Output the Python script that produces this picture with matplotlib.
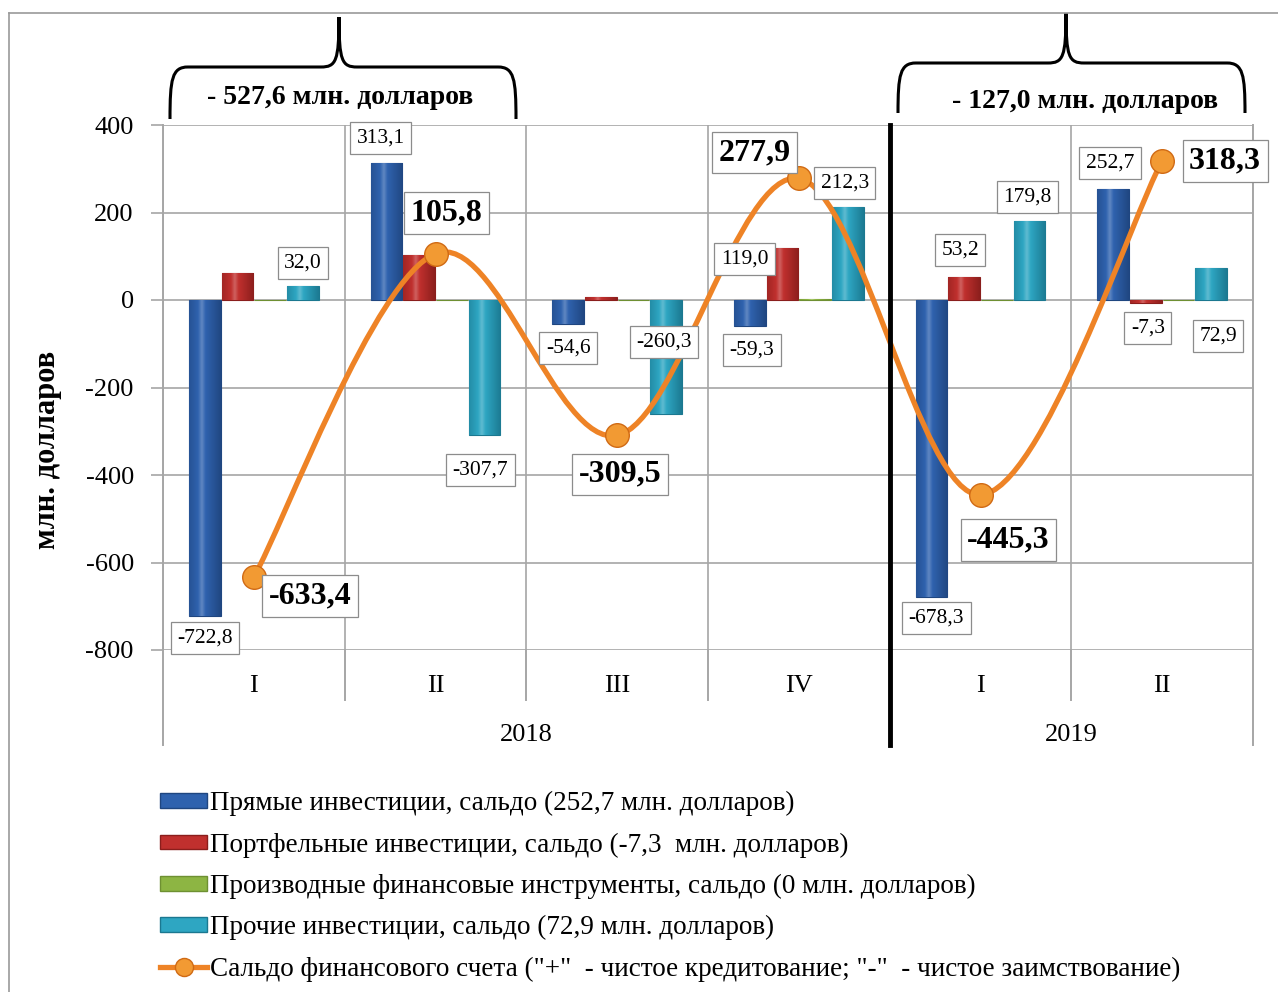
import numpy as np
import matplotlib
matplotlib.use("Agg")
import matplotlib.pyplot as plt
from matplotlib.path import Path
from matplotlib.patches import PathPatch
from matplotlib.lines import Line2D
from matplotlib.patches import Patch
from matplotlib.colors import LinearSegmentedColormap
import matplotlib.transforms as mtransforms

plt.rcParams['font.family'] = ['Liberation Serif', 'DejaVu Serif']
plt.rcParams['axes.unicode_minus'] = False

# --- data
quarters = ["I", "II", "III", "IV", "I", "II"]
years = ["2018", "2019"]
direct = [-722.8, 313.1, -54.6, -59.3, -678.3, 252.7]
portfolio = [62.0, 103.0, 8.0, 119.0, 53.2, -7.3]
derivatives = [0.0, 0.0, 0.0, 3.0, 0.0, 0.0]
other = [32.0, -307.7, -260.3, 212.3, 179.8, 72.9]
balance = [-633.4, 105.8, -309.5, 277.9, -445.3, 318.3]
period_totals = ["- 527,6 млн. долларов", "- 127,0 млн. долларов"]

legend_labels = [
    "Прямые инвестиции, сальдо (252,7 млн. долларов)",
    "Портфельные инвестиции, сальдо (-7,3  млн. долларов)",
    "Производные финансовые инструменты, сальдо (0 млн. долларов)",
    "Прочие инвестиции, сальдо (72,9 млн. долларов)",
    "Сальдо финансового счета (\"+\"  - чистое кредитование; \"-\"  - чистое заимствование)",
]

def fmt(v):
    return f"{v:.1f}".replace(".", ",")

W, H = 1278, 992
fig = plt.figure(figsize=(W / 100, H / 100), dpi=100)

def px(x, y):
    return (x / W, 1 - y / H)

ax = fig.add_axes([163 / W, 1 - 650 / H, (1253 - 163) / W, (650 - 125) / H])

blue, red, green, cyan = '#2F62AE', '#C0302E', '#8DB543', '#2EA6C2'
orange = '#EE8326'
grid_c = '#A6A6A6'

n = len(quarters)
x = np.arange(n)
offs = [-0.27, -0.09, 0.09, 0.27]
bw = 0.175
series = [direct, portfolio, derivatives, other]
cols = [blue, red, green, cyan]
edges = ['#1F4680', '#8A1E1C', '#6E9032', '#1B7890']
grad = np.linspace(0, 1, 64)
grad = 1 - np.abs(grad - 0.4) * 1.6
for s, o, c, e in zip(series, offs, cols, edges):
    bars = ax.bar(x + o, s, width=bw, color=c, edgecolor=e, linewidth=0.8, zorder=3)
    cmap = LinearSegmentedColormap.from_list('g', [e, c, '#FFFFFF'])
    for b in bars:
        if abs(b.get_height()) < 1:
            continue
        x0, y0 = b.get_x(), b.get_y()
        x1, y1 = x0 + b.get_width(), y0 + b.get_height()
        im = ax.imshow(grad[None, :] * 0.62, cmap=cmap, vmin=0, vmax=1, aspect='auto',
                       extent=[x0, x1, min(y0, y1), max(y0, y1)], zorder=3.1,
                       interpolation='bilinear')
        im.set_clip_path(b)

# smoothed line (Catmull-Rom -> cubic bezier, like Excel "smoothed line")
P = np.column_stack([x.astype(float), balance])
verts = [tuple(P[0])]
codes = [Path.MOVETO]
for i in range(n - 1):
    p0 = P[max(i - 1, 0)]
    p1, p2 = P[i], P[i + 1]
    p3 = P[min(i + 2, n - 1)]
    b1 = p1 + (p2 - p0) / 6
    b2 = p2 - (p3 - p1) / 6
    verts += [tuple(b1), tuple(b2), tuple(p2)]
    codes += [Path.CURVE4] * 3
ax.add_patch(PathPatch(Path(verts, codes), fill=False, edgecolor=orange,
                       lw=3.8, zorder=4, capstyle='round'))
ax.plot(x, balance, 'o', ms=17, mfc='#F29A33', mec='#D06A14', mew=1, zorder=5)

ax.set_xlim(-0.5, n - 0.5)
ax.set_ylim(-800, 400)
ax.set_yticks(np.arange(-800, 401, 200))
ax.set_xticks([])
ax.set_xticks(np.arange(-0.5, n, 1), minor=True)
ax.grid(True, axis='y', color=grid_c, lw=1.2, zorder=0)
ax.grid(True, axis='x', which='minor', color=grid_c, lw=1.2, zorder=0)
for sp in ax.spines.values():
    sp.set_visible(False)
ax.tick_params(axis='y', length=9, color=grid_c, width=1.2, labelsize=19, pad=12)
ax.tick_params(axis='x', which='minor', length=0)
fig.text(*px(48, 450), "млн. долларов", rotation=90, ha='center', va='center',
         fontsize=22, fontweight='bold')

# category axis below plot
trans = mtransforms.blended_transform_factory(ax.transData, ax.transAxes)
for i, q in enumerate(quarters):
    ax.text(i, -0.069, q, transform=trans, ha='center', va='center', fontsize=19)
ax.text(1.5, -0.162, years[0], transform=trans, ha='center', va='center', fontsize=19)
ax.text(4.5, -0.162, years[1], transform=trans, ha='center', va='center', fontsize=19)
for b in np.arange(-0.5, n, 1):
    if b in (-0.5, 5.5):
        ax.plot([b, b], [1, -0.181], transform=trans, color=grid_c, lw=1.4, clip_on=False, zorder=1)
    elif b == 3.5:
        ax.plot([b, b], [1, -0.181], transform=trans, color='black', lw=3.5, clip_on=False, zorder=6)
    else:
        ax.plot([b, b], [0, -0.095], transform=trans, color=grid_c, lw=1.4, clip_on=False, zorder=1)

# data labels
small_box = dict(boxstyle='square,pad=0.3', fc='white', ec='#8C8C8C', lw=0.9)
big_box = dict(boxstyle='square,pad=0.2', fc='white', ec='#8C8C8C', lw=0.9)

def lab(xv, yv, txt, d, big=False):
    ax.annotate(txt, xy=(xv, yv), xytext=d, textcoords='offset pixels',
                ha='center', va='center', zorder=7,
                fontsize=23 if big else 15.5, fontweight='bold' if big else 'normal',
                bbox=big_box if big else small_box)

blue_off = [(0, -22), (-6, 25), (0, -24), (2, -24), (5, -21), (-3, 26)]
for i, d in enumerate(blue_off):
    lab(i + offs[0], direct[i], fmt(direct[i]), d)
red_off = {3: (-38, -11), 4: (-4, 27), 5: (2, -25)}
for i, d in red_off.items():
    lab(i + offs[1], portfolio[i], fmt(portfolio[i]), d)
cyan_off = [(0, 23), (-4, -35), (-2, 72), (-3, 24), (-2, 24), (7, -68)]
for i, d in enumerate(cyan_off):
    lab(i + offs[3], other[i], fmt(other[i]), d)
line_off = [(56, -19), (11, 41), (3, -39), (-44, 26), (28, -45), (63, 0)]
for i, d in enumerate(line_off):
    lab(i, balance[i], fmt(balance[i]), d, big=True)

# braces above each period
def brace(x0, x1, xc, ytop, ymid, ybot):
    r = 18
    verts = [px(x0, ybot), px(x0, ymid + 12), px(x0 + 2, ymid), px(x0 + r, ymid),
             px(xc - r, ymid), px(xc - 3, ymid), px(xc, ymid - 6), px(xc, ytop),
             px(xc, ymid - 6), px(xc + 3, ymid), px(xc + r, ymid),
             px(x1 - r, ymid), px(x1 - 2, ymid), px(x1, ymid + 12), px(x1, ybot)]
    codes = [Path.MOVETO, Path.CURVE4, Path.CURVE4, Path.CURVE4,
             Path.LINETO, Path.CURVE4, Path.CURVE4, Path.CURVE4,
             Path.CURVE4, Path.CURVE4, Path.CURVE4,
             Path.LINETO, Path.CURVE4, Path.CURVE4, Path.CURVE4]
    fig.patches.append(PathPatch(Path(verts, codes), fill=False, lw=2.2,
                                 edgecolor='black', transform=fig.transFigure))

brace(170, 516, 339, 17, 67, 119)
brace(898, 1245, 1066, 13, 63, 113)
fig.text(*px(340, 97), period_totals[0], ha='center', va='center', fontsize=20, fontweight='bold')
fig.text(*px(1085, 101), period_totals[1], ha='center', va='center', fontsize=20, fontweight='bold')

# outer frame
fig.add_artist(Line2D([9 / W, 9 / W], [0, 1 - 13 / H], color='#9A9A9A', lw=1.2))
fig.add_artist(Line2D([9 / W, 1], [1 - 13 / H, 1 - 13 / H], color='#9A9A9A', lw=1.2))

# legend
handles = [Patch(fc=c, ec=e) for c, e in zip(cols, edges)]
handles.append(Line2D([], [], color=orange, lw=3.8, marker='o', ms=13,
                      mfc='#F29A33', mec='#D06A14'))
fig.legend(handles, legend_labels, loc='upper left', bbox_to_anchor=px(160, 791),
           frameon=False, fontsize=19.5, handlelength=1.75, handleheight=0.45,
           handletextpad=0.1, labelspacing=0.6, borderpad=0, borderaxespad=0)

fig.savefig("out.png", dpi=100)
